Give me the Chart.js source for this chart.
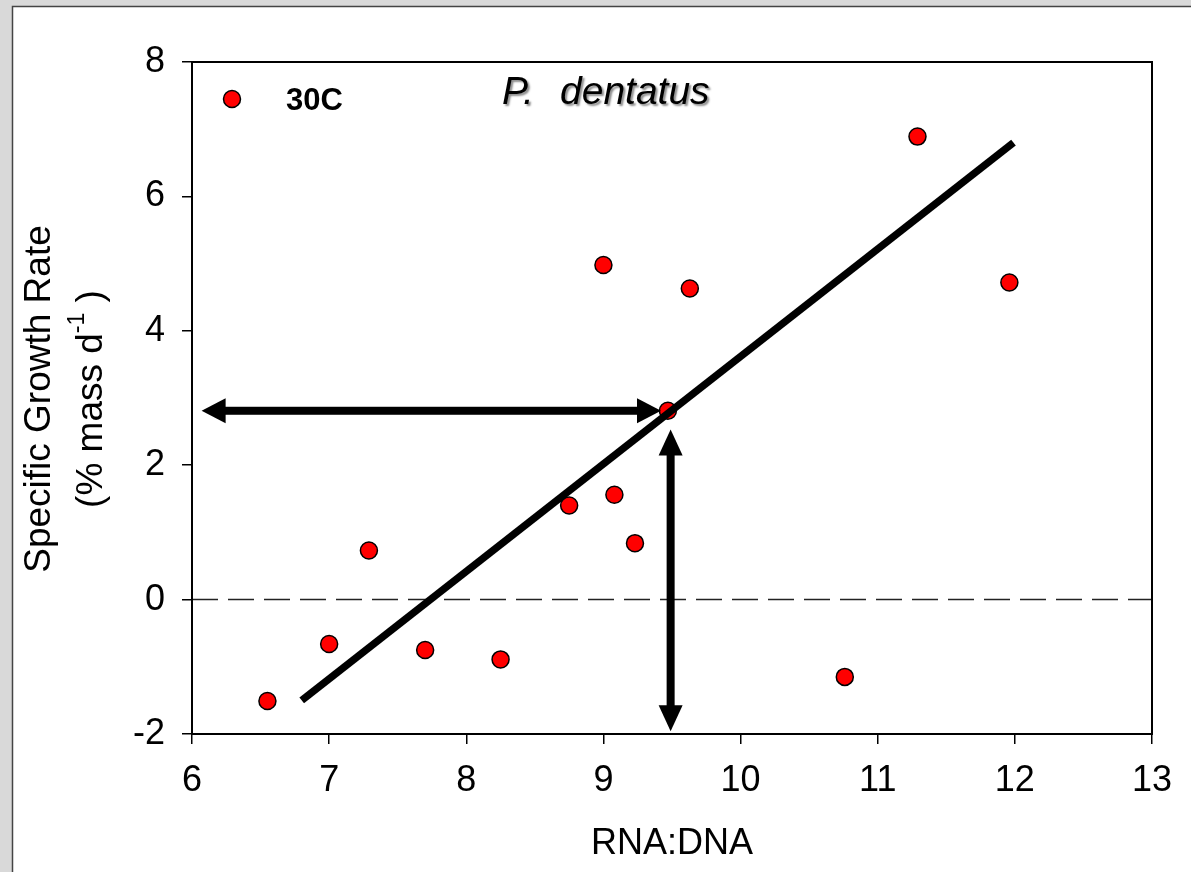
<!DOCTYPE html>
<html><head><meta charset="utf-8">
<script src="https://cdn.jsdelivr.net/npm/chart.js@4.4.1/dist/chart.umd.min.js"></script>
<style>html,body{margin:0;padding:0;background:#d9d9d9;overflow:hidden}canvas{display:block}</style>
</head><body>
<canvas id="c" width="1191" height="872"></canvas>
<script>
// ---- data ----
const rnaDna     = [6.55, 7.00, 7.29, 7.70, 8.25, 8.75, 9.08, 9.23, 9.00, 9.47, 9.63, 10.76, 11.29, 11.96];
const growthRate = [-1.51, -0.66, 0.73, -0.75, -0.89, 1.40, 1.56, 0.84, 4.98, 2.81, 4.63, -1.15, 6.89, 4.72];
const fitX = [6.80, 11.99];
const fitY = [-1.50, 6.80];
const zeroX = [6, 13];
const zeroY = [0, 0];
const hArrowX = [6.07, 9.42];
const hArrowY = [2.81, 2.81];
const vArrowX = [9.49, 9.49];
const vArrowY = [2.53, -1.96];
const xTicks = [6, 7, 8, 9, 10, 11, 12, 13];
const yTicks = [-2, 0, 2, 4, 6, 8];
const seriesLabel = '30C';
const titleParts = ['P.', 'dentatus'];
const xTitle = 'RNA:DNA';
const yTitle1 = 'Specific Growth Rate';
const yTitle2 = ['(% mass d', '-1', ' )'];

const FONT = "'Liberation Sans', Arial, sans-serif";
const pts = (xs, ys) => xs.map((x, i) => ({x, y: ys[i]}));

function doubleArrow(ctx, x1, y1, x2, y2, w, hl, hw) {
  const ang = Math.atan2(y2 - y1, x2 - x1);
  const len = Math.hypot(x2 - x1, y2 - y1);
  ctx.save();
  ctx.translate(x1, y1); ctx.rotate(ang);
  ctx.fillStyle = '#000';
  ctx.fillRect(hl - 2, -w / 2, len - 2 * hl + 4, w);
  ctx.beginPath(); ctx.moveTo(0, 0); ctx.lineTo(hl, -hw); ctx.lineTo(hl, hw); ctx.closePath(); ctx.fill();
  ctx.beginPath(); ctx.moveTo(len, 0); ctx.lineTo(len - hl, -hw); ctx.lineTo(len - hl, hw); ctx.closePath(); ctx.fill();
  ctx.restore();
}

const deco = {
  id: 'deco',
  beforeDraw(chart) {
    const ctx = chart.ctx, W = chart.width, H = chart.height;
    ctx.save();
    ctx.fillStyle = '#d9d9d9'; ctx.fillRect(0, 0, W, H);
    ctx.fillStyle = '#ffffff'; ctx.fillRect(12, 6, W - 12, H - 6);
    ctx.strokeStyle = '#444'; ctx.lineWidth = 1.5;
    ctx.beginPath(); ctx.moveTo(12.5, H); ctx.lineTo(12.5, 6.5); ctx.lineTo(W, 6.5); ctx.stroke();
    ctx.restore();
  },
  afterDatasetsDraw(chart) {
    const ctx = chart.ctx, xs = chart.scales.x, ys = chart.scales.y;
    doubleArrow(ctx, xs.getPixelForValue(hArrowX[0]), ys.getPixelForValue(hArrowY[0]),
      xs.getPixelForValue(hArrowX[1]), ys.getPixelForValue(hArrowY[1]), 8, 24, 12.5);
    doubleArrow(ctx, xs.getPixelForValue(vArrowX[0]), ys.getPixelForValue(vArrowY[0]),
      xs.getPixelForValue(vArrowX[1]), ys.getPixelForValue(vArrowY[1]), 8, 26, 12);
  },
  afterDraw(chart) {
    const ctx = chart.ctx, a = chart.chartArea;
    ctx.save();
    // frame
    ctx.strokeStyle = '#000'; ctx.lineWidth = 2;
    ctx.strokeRect(a.left, a.top, a.right - a.left, a.bottom - a.top);
    // legend
    ctx.beginPath(); ctx.arc(232, 99, 8.5, 0, Math.PI * 2);
    ctx.fillStyle = '#ff0000'; ctx.fill(); ctx.lineWidth = 1.5; ctx.strokeStyle = '#000'; ctx.stroke();
    ctx.fillStyle = '#000'; ctx.font = "bold 31px " + FONT; ctx.textBaseline = 'alphabetic'; ctx.textAlign = 'left';
    ctx.fillText(seriesLabel, 286, 110);
    // title with shadow
    ctx.save();
    ctx.shadowColor = 'rgba(0,0,0,0.45)'; ctx.shadowOffsetX = 2; ctx.shadowOffsetY = 2; ctx.shadowBlur = 2;
    ctx.font = "italic 39px " + FONT;
    ctx.fillText(titleParts[0], 502, 104);
    ctx.fillText(titleParts[1], 560, 104);
    ctx.restore();
    // x title
    ctx.font = "36px " + FONT; ctx.textAlign = 'center'; ctx.textBaseline = 'middle';
    ctx.fillText(xTitle, (a.left + a.right) / 2, 844);
    // y title
    const cy = (a.top + a.bottom) / 2 + 1;
    ctx.save();
    ctx.translate(40, cy); ctx.rotate(-Math.PI / 2);
    ctx.font = "37px " + FONT;
    ctx.fillText(yTitle1, 0, 0);
    ctx.restore();
    ctx.save();
    ctx.translate(92, cy); ctx.rotate(-Math.PI / 2);
    ctx.font = "37px " + FONT; const w1 = ctx.measureText(yTitle2[0]).width, w3 = ctx.measureText(yTitle2[2]).width;
    ctx.font = "23px " + FONT; const w2 = ctx.measureText(yTitle2[1]).width;
    const tot = w1 + w2 + w3; let x0 = -tot / 2;
    ctx.textAlign = 'left';
    ctx.font = "37px " + FONT; ctx.fillText(yTitle2[0], x0, 0);
    ctx.font = "23px " + FONT; ctx.fillText(yTitle2[1], x0 + w1, -14);
    ctx.font = "37px " + FONT; ctx.fillText(yTitle2[2], x0 + w1 + w2, 0);
    ctx.restore();
    ctx.restore();
  }
};

new Chart(document.getElementById('c'), {
  data: {
    datasets: [
      { type: 'line', data: pts(fitX, fitY), borderColor: '#000', borderWidth: 7.5, pointRadius: 0, borderCapStyle: 'butt', order: 0 },
      { type: 'scatter', label: seriesLabel, data: pts(rnaDna, growthRate), backgroundColor: '#ff0000', borderColor: '#000', borderWidth: 1.5, pointRadius: 8.5, pointHoverRadius: 8.5, order: 1 },
      { type: 'line', data: pts(zeroX, zeroY), borderColor: '#222', borderWidth: 1.5, borderDash: [26, 10], pointRadius: 0, order: 2 }
    ]
  },
  options: {
    responsive: false, animation: false,
    layout: { padding: { left: 0, top: 62, right: 39, bottom: 0 } },
    plugins: { legend: { display: false }, tooltip: { enabled: false } },
    scales: {
      x: {
        type: 'linear', min: 6, max: 13,
        afterBuildTicks: s => { s.ticks = xTicks.map(v => ({value: v})); },
        afterFit: s => { s.height = 138; },
        grid: { drawOnChartArea: false, drawTicks: true, tickLength: 10, color: '#000', lineWidth: 1.5 },
        border: { display: true, color: '#000', width: 2 },
        ticks: { color: '#000', font: { family: FONT, size: 36 }, padding: 15, maxRotation: 0 }
      },
      y: {
        type: 'linear', min: -2, max: 8,
        afterBuildTicks: s => { s.ticks = yTicks.map(v => ({value: v})); },
        afterFit: s => { s.width = 192; },
        grid: { drawOnChartArea: false, drawTicks: true, tickLength: 10, color: '#000', lineWidth: 1.5 },
        border: { display: true, color: '#000', width: 2 },
        ticks: { color: '#000', font: { family: FONT, size: 36 }, padding: 17 }
      }
    }
  },
  plugins: [deco]
});
</script>
</body></html>
